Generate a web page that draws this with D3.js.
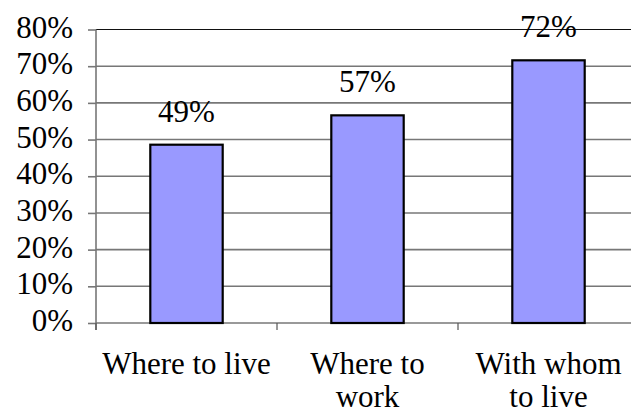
<!DOCTYPE html>
<html>
<head>
<meta charset="utf-8">
<script src="https://cdn.jsdelivr.net/npm/d3@7"></script>
<style>
  html, body { margin: 0; padding: 0; background: #fff; }
  svg { display: block; }
  svg text, svg tspan { font-family: "Liberation Serif", "Times New Roman", Times, serif !important; fill: #000; }
</style>
</head>
<body>
<svg id="chart" width="631" height="413"></svg>
<script>
// ---- data ----
const categories = ["Where to live", "Where to work", "With whom to live"];
const categoryLines = [["Where to live"], ["Where to", "work"], ["With whom", "to live"]];
const values = [0.486, 0.566, 0.716];
const valueLabels = ["49%", "57%", "72%"];
const yTicks = [0, 0.1, 0.2, 0.3, 0.4, 0.5, 0.6, 0.7, 0.8];

// ---- layout ----
const svg = d3.select("#chart");
const plotLeft = 96, plotRight = 639, plotTop = 29.5, plotBottom = 323;
const fontSize = 31;
const serif = '"Liberation Serif", "Times New Roman", Times, serif';

const x = d3.scaleBand().domain(categories).range([plotLeft, plotRight])
  .paddingInner(0.6).paddingOuter(0.3);
const xOuter = d3.scaleBand().domain(categories).range([plotLeft, plotRight]).padding(0);
const y = d3.scaleLinear().domain([0, 0.8]).range([plotBottom, plotTop]);

// gridlines
svg.append("g").selectAll("line").data(yTicks.filter(d => d > 0)).join("line")
  .attr("x1", plotLeft).attr("x2", plotRight)
  .attr("y1", d => y(d)).attr("y2", d => y(d))
  .attr("stroke", d => d === 0.8 ? "#111" : "#777")
  .attr("stroke-width", d => d === 0.8 ? 1.2 : 1.6);

// y axis
const yAxis = d3.axisLeft(y).tickValues(yTicks).tickSize(8).tickFormat(d3.format(".0%"));
const gy = svg.append("g").attr("transform", `translate(${plotLeft},0)`).call(yAxis)
  .attr("font-family", serif).attr("font-size", fontSize);
gy.select(".domain").attr("stroke", "#777").attr("stroke-width", 1.6)
  .attr("d", `M0,${plotTop}V${plotBottom + 7}`);
gy.selectAll(".tick line").attr("stroke", "#777").attr("stroke-width", 1.6);
gy.selectAll(".tick text")
  .attr("x", -23).attr("dy", null).attr("y", 7.5)
  .style("font-family", serif).style("font-size", fontSize + "px")
  .attr("fill", "#000");

// x axis
const gx = svg.append("g").attr("transform", `translate(0,${plotBottom})`);
gx.append("line").attr("x1", plotLeft).attr("x2", plotRight).attr("y1", 0).attr("y2", 0)
  .attr("stroke", "#777").attr("stroke-width", 1.6);
gx.selectAll("line.tk").data(categories).join("line").attr("class", "tk")
  .attr("x1", d => xOuter(d)).attr("x2", d => xOuter(d))
  .attr("y1", 0).attr("y2", 7)
  .attr("stroke", "#555").attr("stroke-width", 1.2);

// x labels
const lab = svg.append("g").selectAll("text").data(categories).join("text")
  .attr("text-anchor", "middle")
  .style("font-family", serif).style("font-size", fontSize + "px")
  .attr("x", d => x(d) + x.bandwidth() / 2)
  .attr("y", 374);
lab.each(function(d, i) {
  const t = d3.select(this);
  categoryLines[i].forEach((ln, j) => {
    t.append("tspan").attr("x", x(d) + x.bandwidth() / 2).attr("y", 374 + j * 33)
      .style("font-family", serif).text(ln);
  });
});

// bars
svg.append("g").selectAll("rect").data(values).join("rect")
  .attr("x", (d, i) => x(categories[i]))
  .attr("y", d => y(d))
  .attr("width", x.bandwidth())
  .attr("height", d => y(0) - y(d))
  .attr("fill", "#9999FF")
  .attr("stroke", "#000")
  .attr("stroke-width", 2.2);

// value labels
svg.append("g").selectAll("text").data(values).join("text")
  .attr("text-anchor", "middle")
  .style("font-family", serif).style("font-size", fontSize + "px")
  .attr("x", (d, i) => x(categories[i]) + x.bandwidth() / 2)
  .attr("y", d => y(d) - 23)
  .text((d, i) => valueLabels[i]);
</script>
</body>
</html>
